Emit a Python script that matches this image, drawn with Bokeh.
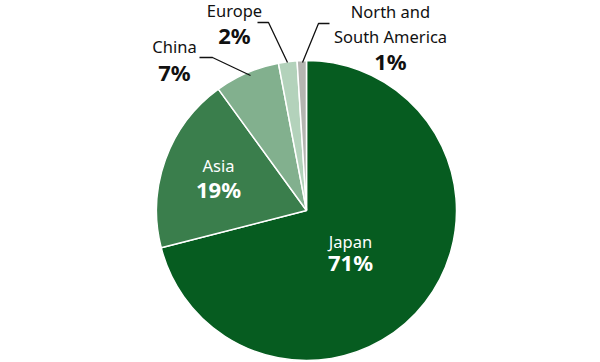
import math
from bokeh.plotting import figure
from bokeh.models import Range1d, ColumnDataSource
from bokeh.core.properties import value
from bokeh.embed import file_html
from bokeh.resources import INLINE

# ---- data ----
categories = ["Japan", "Asia", "China", "Europe", "North and\nSouth America"]
shares = [71, 19, 7, 2, 1]
colors = ["#065c20", "#3a7e4c", "#82b08e", "#b3d2bb", "#b5b5b1"]

W, H = 600, 362
p = figure(width=W, height=H, output_backend="svg", toolbar_location=None,
           x_range=Range1d(0, W), y_range=Range1d(0, H), min_border=0)
p.axis.visible = False
p.grid.visible = False
p.outline_line_color = None
p.background_fill_color = "white"
p.border_fill_color = "white"

def Y(py):
    return H - py

cx, cy, r = 306, Y(210), 150

total = sum(shares)
starts, ends = [], []
acc = 0.0
for s in shares:
    a0 = math.radians(90 - 360 * acc / total)
    acc += s
    a1 = math.radians(90 - 360 * acc / total)
    starts.append(a0)
    ends.append(a1)

src = ColumnDataSource(dict(x=[cx] * len(shares), y=[cy] * len(shares),
                            start=starts, end=ends, color=colors))
p.wedge(x="x", y="y", radius=r, start_angle="start", end_angle="end",
        direction="clock", fill_color="color", line_color="white",
        line_width=1.5, source=src)

# ---- labels (layout) ----
font = value("Noto Sans")
dy = -7
label_layout = [
    (350, [248], 268, "white"),
    (218, [172], 195, "white"),
    (174, [53], 78, "#111111"),
    (234, [17], 41, "#111111"),
    (390, [18, 43], 67, "#111111"),
]
for (name, share, (lx, name_bl, pct_bl, tc)) in zip(categories, shares, label_layout):
    lines = name.split("\n")
    for ln, bl in zip(lines, name_bl):
        p.text(x=[lx], y=[Y(bl + dy)], text=[ln], text_font=font,
               text_font_size="16.5px", text_align="center",
               text_baseline="alphabetic", text_color=tc)
    p.text(x=[lx], y=[Y(pct_bl + dy)], text=[f"{share}%"], text_font=font,
           text_font_size="22px", text_font_style="bold", text_align="center",
           text_baseline="alphabetic", text_color=tc)

leaders = [
    [(199, 57), (212, 57), (250, 75)],
    [(257, 22), (268, 22), (287, 62)],
    [(329, 23), (318, 23), (302, 62)],
]
for pts in leaders:
    p.line([a for a, _ in pts], [Y(b) for _, b in pts], line_color="#111111",
           line_width=1.3)

open("out.html", "w").write(file_html(p, INLINE))
